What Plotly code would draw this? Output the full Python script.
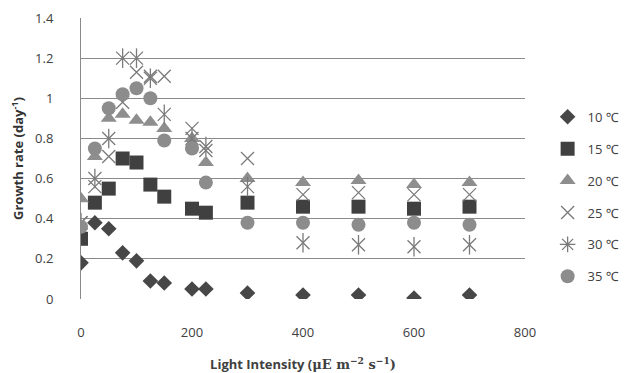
import plotly.graph_objects as go

light = [0, 25, 50, 75, 100, 125, 150, 200, 225, 300, 400, 500, 600, 700]
g10 = [0.18, 0.38, 0.35, 0.23, 0.19, 0.09, 0.08, 0.05, 0.05, 0.03, 0.02, 0.02, 0.005, 0.02]
g15 = [0.30, 0.48, 0.55, 0.70, 0.68, 0.57, 0.51, 0.45, 0.43, 0.48, 0.46, 0.46, 0.45, 0.46]
g20 = [0.50, 0.71, 0.90, 0.92, 0.89, 0.88, 0.85, 0.80, 0.68, 0.60, 0.58, 0.59, 0.57, 0.58]
g25 = [0.38, 0.56, 0.71, 0.98, 1.13, 1.11, 1.11, 0.85, 0.74, 0.70, 0.52, 0.53, 0.52, 0.52]
g30 = [0.38, 0.60, 0.80, 1.20, 1.20, 1.10, 0.92, 0.80, 0.76, 0.56, 0.28, 0.27, 0.26, 0.27]
g35 = [0.36, 0.75, 0.95, 1.02, 1.05, 1.00, 0.79, 0.75, 0.58, 0.38, 0.38, 0.37, 0.38, 0.37]

names = ["10 ℃", "15 ℃", "20 ℃", "25 ℃", "30 ℃", "35 ℃"]
FONT = "Open Sans, Noto Sans, sans-serif"

fig = go.Figure()

def add(y, name, symbol, color, size, grp, show=True, lw=0):
    fig.add_trace(go.Scatter(
        x=light, y=y, mode="markers", name=name, legendgroup=grp, showlegend=show,
        marker=dict(symbol=symbol, color=color, size=size,
                    line=dict(width=lw, color=color)),
    ))

add(g10, names[0], "diamond", "#474747", 12, "a")
add(g15, names[1], "square", "#404040", 14, "b")
add(g20, names[2], "triangle-up", "#8e8e8e", 14, "c")
add(g25, names[3], "x-thin-open", "#7a7a7a", 13, "d", lw=1.3)
# 30 C: asterisk made of x plus vertical stroke
add(g30, names[4], "x-thin-open", "#7a7a7a", 13, "e", show=False, lw=1.3)
add(g30, names[4], "line-ns-open", "#7a7a7a", 14, "e", show=False, lw=1.3)
fig.add_trace(go.Scatter(x=[None], y=[None], mode="markers", name=names[4], legendgroup="e",
                         marker=dict(symbol="asterisk-open", color="#7a7a7a", size=13,
                                     line=dict(width=1.3, color="#7a7a7a"))))
add(g35, names[5], "circle", "#8c8c8c", 14, "f")

fig.update_layout(
    width=628, height=373,
    margin=dict(l=81, r=103, t=18, b=74, autoexpand=False),
    paper_bgcolor="white", plot_bgcolor="white",
    font=dict(family=FONT, size=13, color="#404040"),
    showlegend=True,
    legend=dict(xref="container", yref="container", x=0.872, y=0.727,
                xanchor="left", yanchor="top", maxheight=340,
                traceorder="grouped", tracegroupgap=12,
                font=dict(family=FONT, size=13, color="#404040"),
                bgcolor="rgba(0,0,0,0)", itemwidth=30),
    xaxis=dict(range=[0, 800], tickvals=[0, 200, 400, 600, 800],
               showgrid=False, zeroline=False, showline=False, ticks="",
               ticklabelstandoff=24, tickfont=dict(size=13), automargin=False,
               title=dict(text="<b>Light Intensity (</b><span style='font-family:DejaVu Serif'><b>μE m<sup>−2</sup> s<sup>−1</sup>)</b></span>",
                          font=dict(size=13, color="#404040"), standoff=20)),
    yaxis=dict(range=[0, 1.4], tickvals=[0, 0.2, 0.4, 0.6, 0.8, 1.0, 1.2, 1.4],
               ticktext=["0", "0.2", "0.4", "0.6", "0.8", "1", "1.2", "1.4"],
               showgrid=True, gridcolor="#8a8a8a", gridwidth=1,
               zeroline=False, showline=True, linecolor="#8a8a8a", linewidth=1,
               ticks="", ticklabelstandoff=24, tickfont=dict(size=13), automargin=False,
               title=dict(text="<b>Growth rate (day<sup>-1</sup>)</b>",
                          font=dict(size=13, color="#333333"), standoff=8)),
)

fig.write_html("out.html")
